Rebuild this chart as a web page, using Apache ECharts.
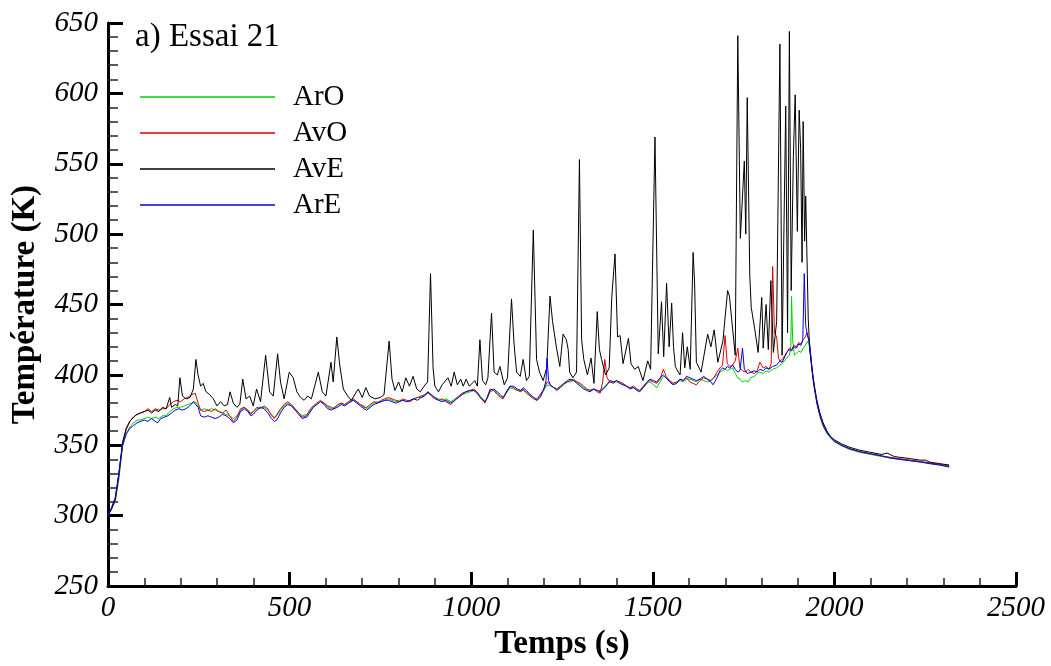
<!DOCTYPE html>
<html>
<head>
<meta charset="utf-8">
<script src="https://cdn.jsdelivr.net/npm/echarts@6/dist/echarts.min.js"></script>
<style>
html,body{margin:0;padding:0;background:#fff;}
#chart{width:1051px;height:666px;}
</style>
</head>
<body>
<div id="chart"></div>
<script>
const seriesNames = ['ArO', 'AvO', 'AvE', 'ArE'];
const seriesColors = ['#00d000', '#e00000', '#000000', '#0000f0'];
const xTicks = [0, 500, 1000, 1500, 2000, 2500];
const yTicks = [250, 300, 350, 400, 450, 500, 550, 600, 650];

// [time (s), temperature (K)]
const arO = [[0,300],[10,305],[20,310],[30,326],[40,349],[50,358],[60,363],[70,366],[80,368],[90,368],[100,369],[110,370],[120,369],[130,370],[140,369],[150,371],[160,371],[170,374],[180,376],[190,377],[200,377],[210,378],[220,379],[230,380],[240,381],[248,378],[255,375],[265,376],[275,375],[285,376],[295,375],[305,374],[315,373],[325,372],[335,371],[345,369],[355,371],[365,375],[375,377],[385,375],[393,373],[400,374],[410,376],[420,377],[430,377],[440,375],[450,372],[458,370],[465,371],[475,375],[485,378],[495,380],[505,378],[515,376],[525,373],[535,371],[547,372],[555,374],[565,377],[575,379],[585,381],[595,380],[605,377],[615,376],[622,377],[632,378],[642,380],[652,379],[662,380],[675,382],[685,381],[695,379],[705,378],[712,376],[722,378],[732,380],[742,381],[752,381],[762,382],[772,383],[782,382],[792,381],[802,382],[812,382],[822,381],[832,382],[842,383],[852,384],[862,384],[872,386],[881,387],[890,386],[900,384],[910,383],[920,382],[930,383],[944,381],[955,383],[965,384],[975,386],[985,387],[997,388],[1007,389],[1016,388],[1025,385],[1038,381],[1045,384],[1052,388],[1062,389],[1072,387],[1080,385],[1088,384],[1097,387],[1107,391],[1117,390],[1127,389],[1137,389],[1143,389],[1152,388],[1162,386],[1172,384],[1181,383],[1190,386],[1200,389],[1209,393],[1218,392],[1227,391],[1236,390],[1245,391],[1255,393],[1265,395],[1272,395],[1282,396],[1291,395],[1300,393],[1310,391],[1318,390],[1327,389],[1337,390],[1347,389],[1355,389],[1368,392],[1382,395],[1392,395],[1400,395],[1410,394],[1418,393],[1428,392],[1437,391],[1447,391],[1456,390],[1464,389],[1474,391],[1484,394],[1492,395],[1502,393],[1511,391],[1520,395],[1529,399],[1537,398],[1546,396],[1556,394],[1566,395],[1575,396],[1584,395],[1593,397],[1602,397],[1611,396],[1620,395],[1630,397],[1640,396],[1650,395],[1660,396],[1668,398],[1677,400],[1685,402],[1692,403],[1699,404],[1705,403],[1712,404],[1720,405],[1727,401],[1734,398],[1740,397],[1747,395],[1755,396],[1762,395],[1770,398],[1780,399],[1787,401],[1795,402],[1804,401],[1812,403],[1820,402],[1830,404],[1841,405],[1850,407],[1856,408],[1862,410],[1869,412],[1876,414],[1880,420],[1882,456],[1885,425],[1890,414],[1895,415],[1902,417],[1908,416],[1914,419],[1920,421],[1926,424],[1932,420],[1938,405],[1945,390],[1953,378],[1962,369],[1970,363],[1980,358],[1990,355],[2000,352.5],[2020,349.5],[2043,347],[2070,345],[2100,343.5],[2130,342],[2153,341],[2180,340],[2210,339],[2240,338],[2263,337],[2290,336],[2316,335]];

const avO = [[0,300],[10,305],[20,311],[30,329],[40,351],[50,361],[60,367],[70,370],[80,372],[90,373],[100,374],[110,376],[120,374],[130,376],[140,375],[150,376],[160,376],[170,379],[180,381],[190,382],[200,381],[210,383],[220,384],[230,386],[240,387],[248,380],[255,375],[265,374],[275,375],[285,374],[295,376],[305,374],[315,373],[325,375],[335,371],[345,367],[355,370],[365,376],[375,377],[385,375],[393,372],[400,374],[410,377],[420,376],[430,378],[440,376],[450,371],[458,369],[465,372],[475,376],[485,379],[495,381],[505,379],[515,376],[525,373],[535,370],[547,371],[555,375],[565,378],[575,380],[585,382],[595,380],[605,378],[615,377],[622,376],[632,379],[642,380],[652,379],[662,381],[675,383],[685,381],[695,379],[705,377],[712,377],[722,379],[732,381],[742,380],[752,382],[762,383],[772,384],[782,383],[792,382],[802,381],[812,383],[822,382],[832,381],[842,383],[852,384],[862,385],[872,386],[881,388],[890,385],[900,383],[910,382],[920,383],[930,381],[944,379],[955,382],[965,385],[975,387],[985,388],[997,389],[1007,390],[1016,388],[1025,384],[1038,380],[1045,385],[1052,390],[1062,389],[1072,386],[1080,384],[1088,383],[1097,388],[1107,392],[1117,391],[1127,389],[1137,388],[1143,390],[1152,387],[1162,385],[1172,383],[1181,382],[1190,386],[1200,390],[1209,395],[1218,393],[1227,391],[1236,390],[1245,392],[1255,394],[1265,395],[1272,396],[1282,397],[1291,395],[1300,394],[1310,392],[1318,390],[1327,389],[1337,390],[1347,388],[1355,387],[1362,395],[1368,411],[1374,398],[1382,395],[1392,394],[1400,396],[1410,395],[1418,394],[1428,392],[1437,391],[1447,392],[1456,390],[1464,389],[1474,392],[1484,395],[1492,396],[1502,395],[1511,394],[1520,397],[1529,404],[1537,399],[1546,396],[1556,394],[1566,395],[1575,397],[1584,396],[1593,398],[1602,395],[1611,394],[1620,393],[1630,396],[1640,398],[1650,397],[1660,396],[1668,398],[1677,402],[1685,405],[1692,407],[1699,428],[1705,408],[1712,406],[1720,407],[1727,410],[1734,419],[1740,405],[1747,403],[1755,402],[1762,404],[1770,402],[1780,401],[1787,403],[1795,409],[1804,405],[1812,406],[1820,404],[1826,408],[1830,477],[1835,430],[1841,427],[1846,412],[1850,410],[1856,411],[1862,413],[1869,416],[1876,419],[1882,418],[1888,421],[1895,420],[1902,423],[1908,422],[1914,425],[1920,427],[1924,430],[1930,425],[1936,410],[1942,395],[1951,381],[1960,371],[1969,364],[1980,359],[1990,356],[2000,353],[2020,350],[2043,347.5],[2070,345.5],[2100,344],[2130,342.5],[2153,341.5],[2180,340.5],[2210,339.5],[2240,338.5],[2263,337.5],[2290,336.5],[2316,335.5]];

const avE = [[0,300],[10,305],[20,312],[30,330],[40,352],[50,362],[60,367],[70,370],[80,372],[90,373],[100,374],[110,375],[120,373],[130,375],[140,374],[150,377],[160,376],[170,384],[175,377],[185,379],[192,378],[198,398],[205,385],[215,383],[226,384],[235,390],[242,411],[248,400],[255,392],[262,394],[270,388],[280,386],[290,383],[300,378],[310,381],[320,378],[329,379],[336,388],[345,380],[355,377],[363,379],[371,397],[380,383],[390,385],[400,378],[409,390],[420,381],[434,414],[445,388],[455,385],[467,415],[475,395],[485,383],[499,402],[510,398],[520,388],[530,384],[540,382],[550,385],[560,383],[579,402],[590,388],[600,385],[614,409],[620,395],[630,427],[638,407],[648,390],[660,385],[670,382],[689,390],[700,384],[710,391],[720,385],[735,383],[750,384],[760,386],[774,424],[782,397],[790,389],[800,395],[810,388],[820,398],[830,392],[840,399],[850,390],[860,388],[870,392],[880,395],[888,472],[895,405],[900,392],[910,388],[920,393],[936,398],[945,392],[953,402],[962,393],[971,397],[978,392],[986,397],[995,392],[1010,396],[1017,392],[1024,425],[1031,396],[1040,393],[1046,398],[1056,444],[1063,402],[1072,400],[1079,406],[1091,393],[1100,398],[1111,454],[1118,422],[1125,402],[1135,399],[1143,411],[1152,396],[1160,399],[1171,503],[1180,411],[1188,402],[1198,396],[1208,405],[1217,456],[1224,438],[1235,419],[1244,406],[1253,429],[1262,425],[1267,418],[1271,402],[1280,398],[1290,402],[1298,553],[1304,425],[1310,411],[1320,400],[1330,412],[1338,394],[1347,445],[1353,418],[1359,411],[1370,400],[1380,405],[1387,455],[1396,486],[1403,427],[1410,428],[1418,408],[1433,426],[1440,408],[1450,404],[1460,406],[1473,396],[1486,410],[1494,404],[1506,569],[1515,415],[1524,452],[1530,413],[1538,465],[1545,420],[1552,451],[1557,420],[1562,406],[1570,402],[1575,400],[1582,430],[1588,405],[1595,420],[1603,404],[1611,487],[1615,466],[1620,409],[1633,402],[1651,429],[1660,420],[1669,432],[1679,409],[1693,424],[1706,460],[1711,456],[1720,432],[1727,414],[1734,641],[1741,497],[1752,552],[1756,500],[1760,597],[1767,471],[1771,448],[1781,432],[1790,416],[1800,455],[1804,419],[1812,450],[1818,418],[1825,467],[1832,416],[1841,438],[1850,635],[1856,414],[1866,591],[1871,430],[1876,644],[1881,460],[1887,555],[1892,599],[1898,502],[1903,588],[1907,561],[1911,480],[1914,580],[1918,495],[1921,527],[1925,528],[1928,440],[1932,418],[1940,400],[1951,383],[1960,373],[1969,366],[1980,360],[1990,356],[2000,354],[2020,351],[2043,348.5],[2070,346.5],[2100,345],[2130,343.5],[2145,344.5],[2153,343.5],[2165,342],[2180,341.5],[2210,340.5],[2235,339.5],[2250,339.5],[2263,338],[2290,337],[2316,336]];

const arE = [[0,300],[10,306],[20,313],[30,330],[40,350],[50,358],[60,362],[70,364],[80,366],[90,367],[100,368],[110,367],[120,369],[130,367],[137,366],[145,369],[155,370],[165,371],[175,373],[185,375],[195,376],[205,375],[215,376],[225,378],[235,381],[240,382],[248,377],[255,371],[265,370],[275,371],[285,370],[295,369],[305,370],[315,372],[325,371],[335,369],[345,366],[355,368],[365,374],[375,376],[385,374],[393,371],[400,372],[410,375],[420,377],[430,376],[440,373],[450,369],[458,367],[465,368],[475,373],[485,377],[495,379],[505,378],[515,375],[525,372],[535,369],[547,370],[555,373],[565,377],[575,379],[585,381],[595,379],[605,376],[615,375],[622,376],[632,377],[642,379],[652,378],[662,380],[675,382],[685,380],[695,378],[705,376],[712,375],[722,377],[732,379],[742,380],[752,381],[762,382],[772,382],[782,381],[792,380],[802,381],[812,382],[822,381],[832,382],[842,383],[852,382],[862,384],[872,385],[881,388],[890,386],[900,384],[910,382],[920,381],[930,382],[944,380],[955,382],[965,384],[975,386],[985,388],[997,389],[1007,389],[1016,387],[1025,384],[1038,381],[1045,384],[1052,389],[1062,390],[1072,388],[1080,386],[1088,384],[1097,388],[1107,392],[1117,392],[1127,390],[1137,389],[1143,391],[1152,389],[1162,386],[1172,384],[1181,382],[1190,384],[1200,390],[1206,396],[1209,412],[1213,396],[1218,393],[1227,391],[1236,389],[1245,391],[1255,394],[1265,396],[1272,397],[1282,396],[1291,394],[1300,392],[1310,390],[1318,389],[1327,388],[1337,390],[1347,389],[1355,388],[1368,391],[1382,396],[1392,395],[1400,396],[1410,394],[1418,393],[1428,392],[1437,390],[1447,391],[1456,389],[1464,388],[1474,391],[1484,395],[1492,397],[1502,396],[1511,395],[1520,398],[1529,400],[1537,398],[1546,395],[1556,393],[1566,394],[1575,397],[1584,396],[1593,399],[1602,398],[1611,397],[1620,396],[1630,397],[1640,399],[1650,397],[1660,395],[1666,393],[1677,398],[1685,403],[1692,405],[1699,404],[1705,406],[1712,405],[1720,407],[1727,404],[1734,402],[1740,403],[1747,419],[1752,404],[1760,401],[1770,402],[1780,403],[1787,402],[1795,404],[1804,403],[1812,405],[1820,404],[1830,406],[1841,407],[1850,410],[1856,409],[1862,412],[1869,416],[1876,418],[1882,417],[1888,420],[1895,419],[1902,422],[1908,421],[1913,425],[1917,472],[1921,435],[1926,428],[1932,422],[1938,406],[1945,391],[1953,379],[1962,370],[1970,364],[1980,359],[1990,355.5],[2000,353],[2020,350],[2043,347.5],[2070,345.5],[2100,344],[2130,342.5],[2153,341],[2180,340],[2210,339],[2240,338],[2263,337],[2290,336],[2316,334.5]];

const seriesData = [arO, avO, avE, arE];

const chart = echarts.init(document.getElementById('chart'), null, {renderer: 'canvas'});
const serif = "'Liberation Serif', 'Times New Roman', serif";

const axisLabelStyle = {color: '#000', fontFamily: serif, fontStyle: 'italic', fontSize: 29, formatter: v => String(v)};
const nameStyle = {color: '#000', fontFamily: serif, fontWeight: 'bold', fontSize: 33};

chart.setOption({
  animation: false,
  backgroundColor: '#fff',
  title: {
    text: 'a) Essai 21',
    left: 130, top: 16,
    textStyle: {color: '#000', fontFamily: serif, fontWeight: 'normal', fontSize: 33}
  },
  legend: {
    orient: 'vertical',
    left: 135, top: 74,
    itemWidth: 135, itemHeight: 1.5,
    itemGap: 0,
    icon: 'rect',
    data: seriesNames,
    textStyle: {color: '#000', fontFamily: serif, fontSize: 29, lineHeight: 36, padding: [0, 0, 0, 13]}
  },
  grid: {left: 108, right: 35, top: 23, bottom: 62, containLabel: false},
  xAxis: {
    type: 'value', min: xTicks[0], max: xTicks[xTicks.length - 1], interval: 500,
    name: 'Temps (s)', nameLocation: 'middle', nameGap: 37, nameTextStyle: nameStyle,
    axisLine: {show: true, onZero: false, lineStyle: {color: '#000', width: 3}},
    axisTick: {show: true, inside: true, length: 14, lineStyle: {color: '#000', width: 3}},
    minorTick: {show: true, splitNumber: 5, length: 8, lineStyle: {color: '#222', width: 1.5}},
    splitLine: {show: false}, minorSplitLine: {show: false},
    axisLabel: Object.assign({}, axisLabelStyle, {margin: 8})
  },
  yAxis: {
    type: 'value', min: yTicks[0], max: yTicks[yTicks.length - 1], interval: 50,
    name: 'Température (K)', nameLocation: 'middle', nameGap: 66, nameRotate: 90, nameTextStyle: nameStyle,
    axisLine: {show: true, onZero: false, lineStyle: {color: '#000', width: 3}},
    axisTick: {show: true, inside: true, length: 15, lineStyle: {color: '#000', width: 3}},
    minorTick: {show: true, splitNumber: 5, length: 10, lineStyle: {color: '#222', width: 1.5}},
    splitLine: {show: false}, minorSplitLine: {show: false},
    axisLabel: Object.assign({}, axisLabelStyle, {margin: 10})
  },
  series: seriesNames.map((n, i) => ({
    name: n, type: 'line', data: seriesData[i],
    symbol: 'none', showSymbol: false,
    color: seriesColors[i],
    lineStyle: {width: 1, color: seriesColors[i]},
    z: 2 + i
  }))
});
</script>
</body>
</html>
